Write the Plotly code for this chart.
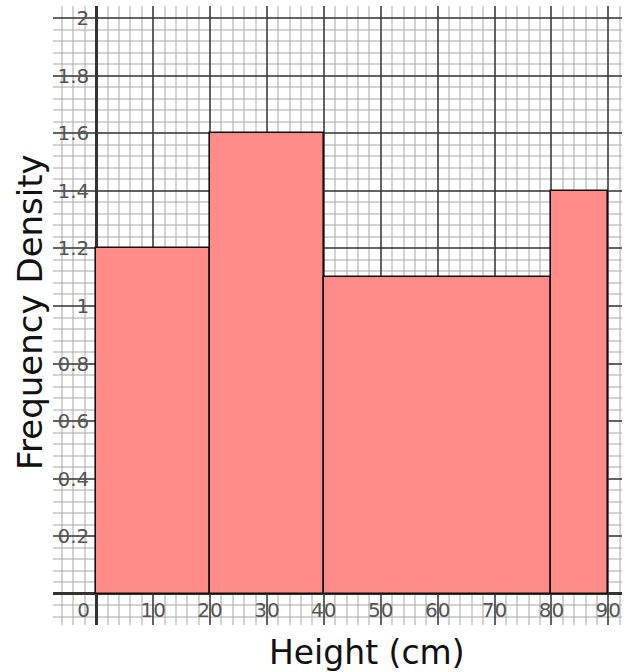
import plotly.graph_objects as go

# Data
class_edges = [0, 20, 40, 80, 90]
freq_density = [1.2, 1.6, 1.1, 1.4]
x_tick_vals = [0, 10, 20, 30, 40, 50, 60, 70, 80, 90]
x_tick_text = ["0\u00a0\u00a0\u00a0\u00a0", "10", "20", "30", "40", "50", "60", "70", "80", "90"]
y_tick_vals = [0.2, 0.4, 0.6, 0.8, 1.0, 1.2, 1.4, 1.6, 1.8, 2.0]
y_tick_text = ["0.2", "0.4", "0.6", "0.8", "1", "1.2", "1.4", "1.6", "1.8", "2"]

centers = [(a + b) / 2 for a, b in zip(class_edges[:-1], class_edges[1:])]
widths = [b - a for a, b in zip(class_edges[:-1], class_edges[1:])]

XR = [-7.6, 92.4]
YR = [-0.108, 2.042]

fig = go.Figure()
fig.add_trace(go.Bar(
    x=centers, y=freq_density, width=widths,
    marker=dict(color="#ff8b8b", line=dict(color="#111111", width=1.6)),
    hoverinfo="skip", showlegend=False,
))
fig.add_trace(go.Scatter(x=[None], y=[None], xaxis="x2", yaxis="y2",
                         showlegend=False, hoverinfo="skip"))

grid_major = "rgba(55,55,55,0.78)"
grid_minor = "rgba(175,175,175,0.55)"
tick_font = dict(family="DejaVu Sans", size=20, color="#555555")

L, R, T, B = 53, 2, 6, 47
W, H = 624, 672

fig.update_layout(
    width=W, height=H,
    margin=dict(l=L, r=R, t=T, b=B),
    paper_bgcolor="white", plot_bgcolor="white",
    bargap=0,
    xaxis=dict(range=XR, tick0=0, dtick=10, showticklabels=False, ticks="",
               showgrid=True, gridcolor=grid_major, gridwidth=2,
               minor=dict(dtick=2, tick0=0, showgrid=True, gridcolor=grid_minor, gridwidth=2),
               zeroline=True, zerolinecolor="#333333", zerolinewidth=2.5,
               showline=False, fixedrange=True),
    yaxis=dict(range=YR, tick0=0, dtick=0.2, showticklabels=False, ticks="",
               showgrid=True, gridcolor=grid_major, gridwidth=2,
               minor=dict(dtick=0.04, tick0=0, showgrid=True, gridcolor=grid_minor, gridwidth=2),
               zeroline=True, zerolinecolor="#333333", zerolinewidth=2.5,
               showline=False, fixedrange=True),
    xaxis2=dict(range=XR, overlaying="x", anchor="free",
                position=(0 - YR[0]) / (YR[1] - YR[0]),
                tickmode="array", tickvals=x_tick_vals, ticktext=x_tick_text,
                ticks="", showgrid=False, zeroline=False, showline=False,
                tickfont=tick_font, ticklabelstandoff=2, fixedrange=True),
    yaxis2=dict(range=YR, overlaying="y", anchor="free", side="left",
                position=(0 - XR[0]) / (XR[1] - XR[0]),
                tickmode="array", tickvals=y_tick_vals, ticktext=y_tick_text,
                ticks="", showgrid=False, zeroline=False, showline=False,
                tickfont=tick_font, ticklabelstandoff=7, fixedrange=True),
)

pw = W - L - R
ph = H - T - B
fig.add_annotation(text="Height (cm)", x=(367 - L) / pw, y=(H - B - 652) / ph,
                   xref="paper", yref="paper", showarrow=False,
                   xanchor="center", yanchor="middle",
                   font=dict(family="DejaVu Sans", size=33, color="#111111"))
fig.add_annotation(text="Frequency Density", x=(30 - L) / pw, y=(H - B - 312) / ph,
                   xref="paper", yref="paper", showarrow=False, textangle=-90,
                   xanchor="center", yanchor="middle",
                   font=dict(family="DejaVu Sans", size=34, color="#111111"))

fig.write_html("out.html", config={"displayModeBar": False},
               post_script="document.body.style.margin='0';document.body.style.padding='0';")
